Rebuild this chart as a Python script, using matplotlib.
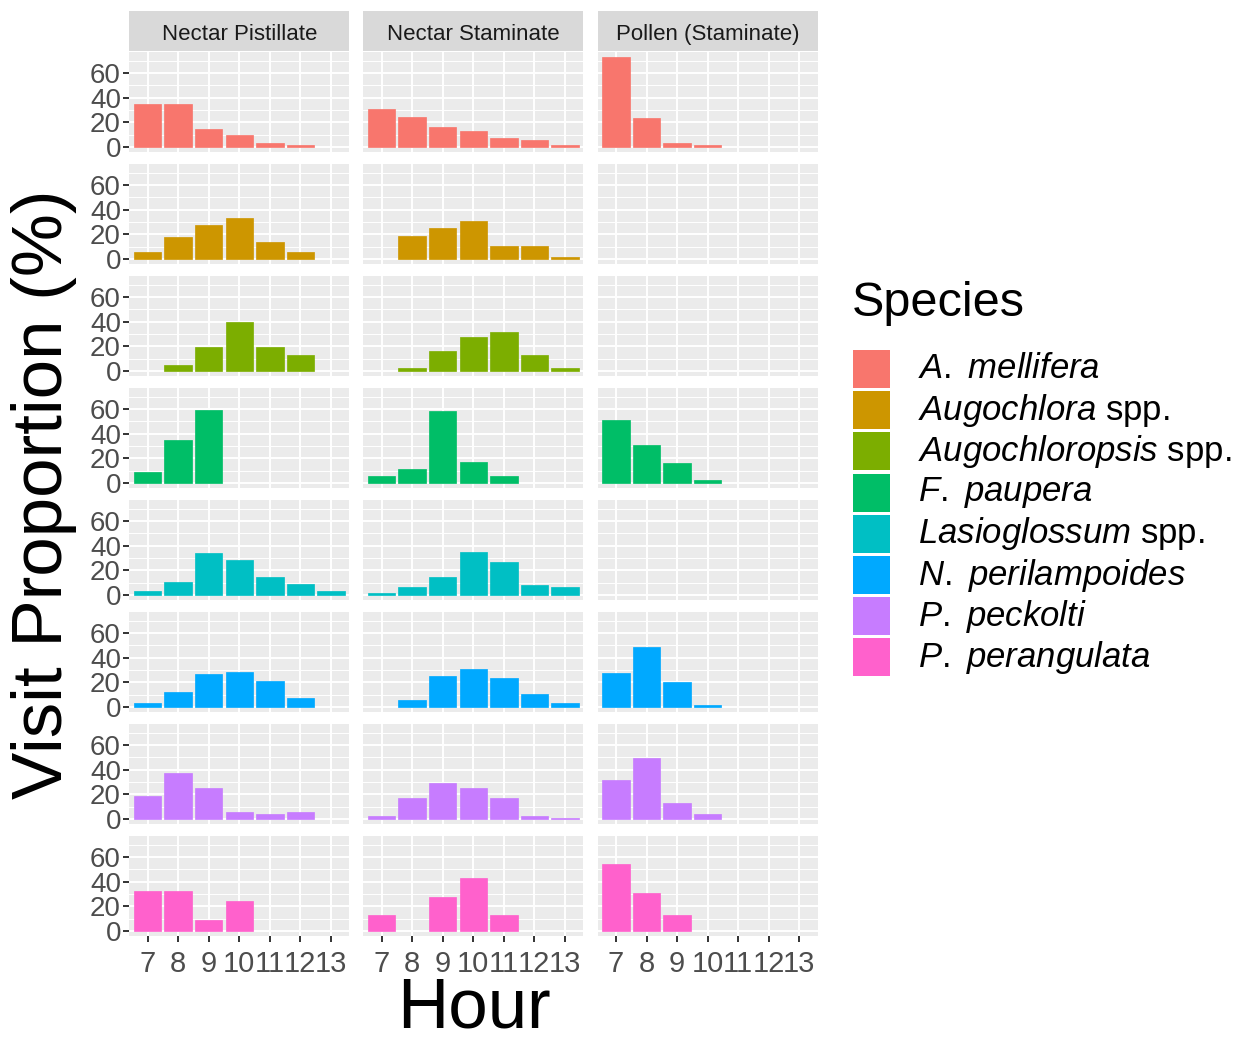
import matplotlib
matplotlib.use("Agg")
import matplotlib.pyplot as plt
from matplotlib.patches import Rectangle

plt.rcParams['font.family'] = ['Liberation Sans', 'DejaVu Sans']
plt.rcParams['mathtext.fontset'] = 'custom'
plt.rcParams['mathtext.rm'] = 'Liberation Sans'
plt.rcParams['mathtext.it'] = 'Liberation Sans:italic'

# data (visit proportion %, hours 7..13), 0 = no bar
hours = [7, 8, 9, 10, 11, 12, 13]
facets = ["Nectar Pistillate", "Nectar Staminate", "Pollen (Staminate)"]
species = [r"$\mathit{A.\ mellifera}$",
           r"$\mathit{Augochlora}$ spp.",
           r"$\mathit{Augochloropsis}$ spp.",
           r"$\mathit{F.\ paupera}$",
           r"$\mathit{Lasioglossum}$ spp.",
           r"$\mathit{N.\ perilampoides}$",
           r"$\mathit{P.\ peckolti}$",
           r"$\mathit{P.\ perangulata}$"]
colors = ["#F8766D", "#CD9600", "#7CAE00", "#00BE67",
          "#00BFC4", "#00A9FF", "#C77CFF", "#FF61CC"]

nectar_pist = [
    [35, 35, 15, 10, 3, 1.4, 0],
    [5.4, 18, 28, 33, 14, 5.4, 0],
    [0, 4.7, 19.5, 40, 19.5, 13, 0],
    [9, 35, 59, 0, 0, 0, 0],
    [3.3, 10.7, 34.4, 28.7, 15, 9, 3.3],
    [3.3, 12.3, 27, 28.4, 21, 7.7, 0],
    [19, 37, 25, 6, 4.4, 6, 0],
    [32.5, 32.5, 9, 24, 0, 0, 0],
]
nectar_stam = [
    [30.6, 24.7, 16, 13.4, 7.3, 6.2, 1.9],
    [0, 19, 25, 31, 10.5, 10.5, 1.5],
    [0, 2.5, 16, 27.5, 32, 12.7, 2.5],
    [5.5, 11.8, 58.7, 17.5, 5.5, 0, 0],
    [1.4, 7, 14.4, 35.2, 26.5, 8.4, 7],
    [0, 5.7, 25.2, 31, 23.5, 10.4, 3],
    [2.5, 17.2, 29.5, 24.8, 17.2, 2.5, 1.3],
    [13.1, 0, 28, 42.6, 13.1, 0, 0],
]
pollen_stam = [
    [73, 23.4, 3, 1.4, 0, 0, 0],
    [0, 0, 0, 0, 0, 0, 0],
    [0, 0, 0, 0, 0, 0, 0],
    [51.4, 30.9, 16.1, 2.8, 0, 0, 0],
    [0, 0, 0, 0, 0, 0, 0],
    [27.5, 48.4, 20.5, 1.4, 0, 0, 0],
    [32, 49.5, 13, 4, 0, 0, 0],
    [54.5, 30.8, 13.1, 0, 0, 0, 0],
]
panels = [nectar_pist, nectar_stam, pollen_stam]

W, H = 1250, 1041
fig = plt.figure(figsize=(W / 100, H / 100), dpi=100)

col_left = [129.3, 363.3, 597.7]
col_w = 220
row_top0 = 52.3
row_step = 112
row_h = 99.4

ymax = max(max(max(r) for r in p) for p in panels)
ylim = (-0.05 * ymax, 1.05 * ymax)
xs = list(range(len(hours)))


def fx(px):
    return px / W


def fy(py):
    return 1 - py / H


for c, data in enumerate(panels):
    for r in range(len(species)):
        top = row_top0 + r * row_step
        ax = fig.add_axes([fx(col_left[c]), fy(top + row_h), col_w / W, row_h / H])
        ax.set_facecolor('#EBEBEB')
        for s in ax.spines.values():
            s.set_visible(False)
        ax.set_xlim(-0.6, len(hours) - 0.4)
        ax.set_ylim(*ylim)
        ax.set_yticks([0, 20, 40, 60])
        ax.set_yticks([10, 30, 50, 70], minor=True)
        ax.set_xticks(xs)
        ax.grid(which='major', color='white', lw=1.4)
        ax.grid(which='minor', axis='y', color='white', lw=0.7)
        ax.set_axisbelow(True)
        vals = data[r]
        bx = [x for x, v in zip(xs, vals) if v > 0]
        bv = [v for v in vals if v > 0]
        ax.bar(bx, bv, width=0.9, color=colors[r], edgecolor=colors[r], lw=0.5)
        ax.tick_params(which='minor', length=0)
        ax.tick_params(axis='y', which='major', length=4, width=1.4, color='#333333',
                       labelsize=20, labelcolor='#4D4D4D', pad=2)
        ax.tick_params(axis='x', which='major', length=4, width=1.4, color='#333333',
                       labelsize=21, labelcolor='#4D4D4D', pad=6)
        if c == 0:
            ax.set_yticklabels(['0', '20', '40', '60'])
        else:
            ax.tick_params(axis='y', which='major', length=0, labelleft=False)
        if r == len(species) - 1:
            ax.set_xticklabels([str(h) for h in hours])
        else:
            ax.tick_params(axis='x', which='major', length=0, labelbottom=False)

    # facet strip
    sax = fig.add_axes([fx(col_left[c]), fy(51.5), col_w / W, 40.5 / H])
    sax.set_facecolor('#D9D9D9')
    sax.set_xticks([])
    sax.set_yticks([])
    for s in sax.spines.values():
        s.set_visible(False)
    sax.text(0.5, 0.42, facets[c], ha='center', va='center', fontsize=16,
             color='#1A1A1A', transform=sax.transAxes)

# axis titles
fig.text(fx(44), fy(494), "Visit Proportion (%)", rotation=90, ha='center',
         va='center', fontsize=51)
fig.text(fx(473.5), fy(1028), "Hour", ha='center', va='baseline', fontsize=51)

# legend
fig.text(fx(852), fy(303), "Species", ha='left', va='center', fontsize=35)
for i, (lab, col) in enumerate(zip(species, colors)):
    cy = 369 + 41.2 * i
    fig.patches.append(Rectangle((fx(853), fy(cy + 19)), 37 / W, 38 / H,
                                 transform=fig.transFigure, facecolor=col,
                                 edgecolor='none'))
    fig.text(fx(918), fy(cy), lab, ha='left', va='center', fontsize=25)

fig.savefig("out.png", dpi=100)
